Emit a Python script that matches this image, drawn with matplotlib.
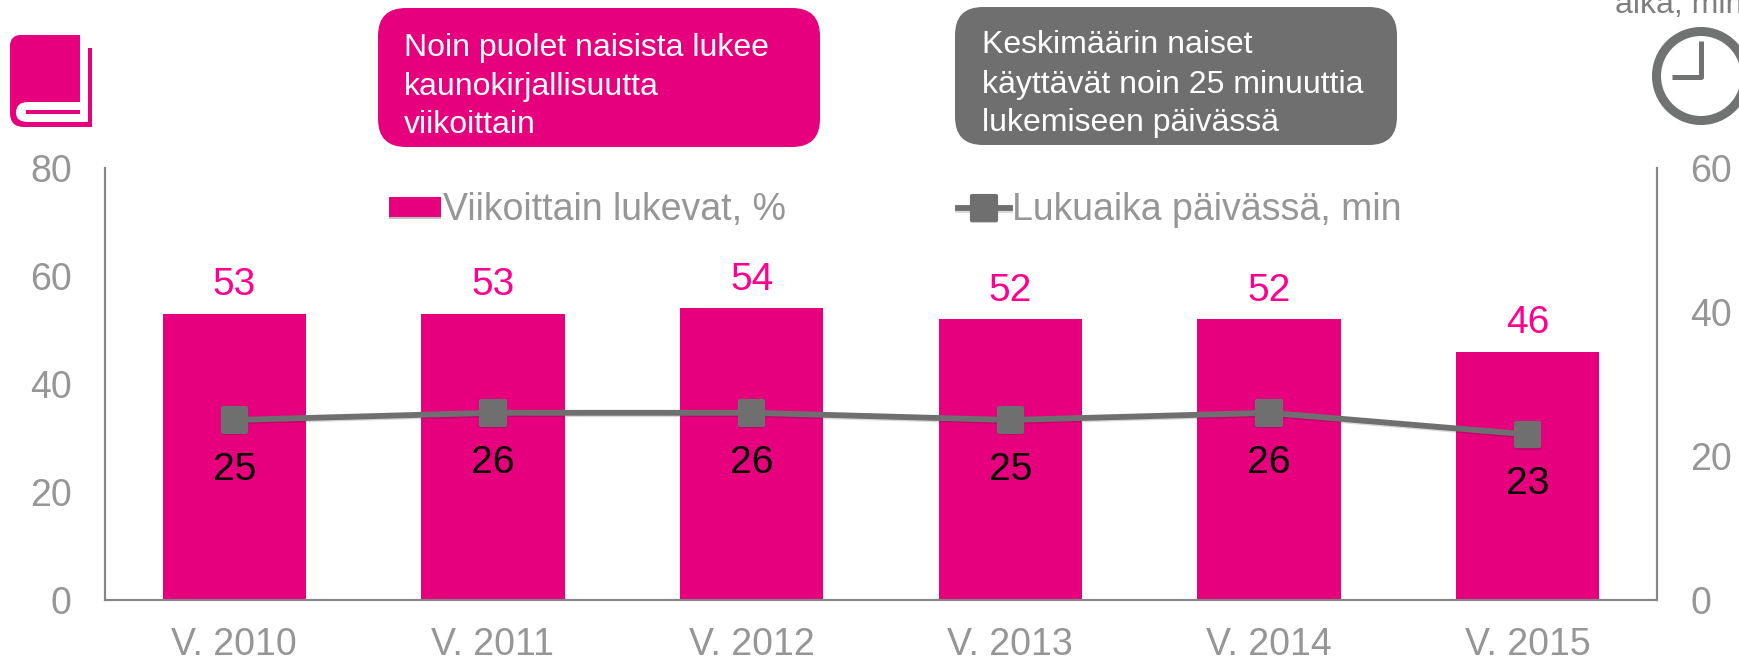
import matplotlib
matplotlib.use('Agg')
from matplotlib import pyplot as plt
from matplotlib import patheffects as pe
from matplotlib.markers import MarkerStyle
from matplotlib.patches import Circle, FancyBboxPatch, PathPatch, Rectangle
from matplotlib.path import Path

plt.rcParams['font.family'] = ['Liberation Sans', 'DejaVu Sans']

years = ['V. 2010', 'V. 2011', 'V. 2012', 'V. 2013', 'V. 2014', 'V. 2015']
weekly_readers = [53, 53, 54, 52, 52, 46]
reading_time = [25, 26, 26, 25, 26, 23]
left_ticks = [0, 20, 40, 60, 80]
right_ticks = [0, 20, 40, 60]

PINK = '#e6007e'
LABEL_PINK = '#ff0090'
DARK = '#6f6f6f'
GREY = '#969696'
AXIS = '#868686'
W, H = 1739, 661
SIZE = 27
LABEL_SIZE = 28

fig = plt.figure(figsize=(W / 100, H / 100), dpi=100)
ax = fig.add_axes([105 / W, 1 - 600 / H, (1657 - 105) / W, (600 - 168) / H])
ax2 = ax.twinx()

# pylvaat, vasen akseli
x = list(range(len(years)))
shadow = [pe.SimplePatchShadow(offset=(0, -2), alpha=0.25, shadow_rgbFace='black'), pe.Normal()]
bars = ax.bar(x, weekly_readers, width=0.553, color=PINK, path_effects=shadow,
              label='Viikoittain lukevat, %')
for i, v in enumerate(weekly_readers):
    ax.annotate(str(v), (i, v), xytext=(0, 20.5), textcoords='offset points', ha='center',
                va='center', fontsize=LABEL_SIZE, color=LABEL_PINK)

ax.set_xlim(-0.5, 5.5)
ax.set_ylim(0, 80)
ax.set_xticks(x)
ax.set_xticklabels(years)
ax.set_yticks(left_ticks)
ax.tick_params(axis='x', length=0, pad=19.5, labelsize=SIZE, labelcolor=GREY)
ax.tick_params(axis='y', length=0, pad=24, labelsize=SIZE, labelcolor=GREY)

# viiva, oikea akseli
marker = MarkerStyle('s', joinstyle='round')
line_shadow = [pe.SimpleLineShadow(offset=(0, -1), alpha=0.15, shadow_color='black'), pe.Normal()]
line, = ax2.plot(x, reading_time, color=DARK, lw=4.2, marker=marker, ms=17, mfc=DARK, mec=DARK,
                 mew=3, label='Lukuaika päivässä, min', path_effects=line_shadow)
for i, v in enumerate(reading_time):
    ax2.annotate(str(v), (i, v), xytext=(0, -36), textcoords='offset points', ha='center',
                 va='center', fontsize=LABEL_SIZE, color='black')
ax2.set_ylim(0, 60)
ax2.set_yticks(right_ticks)
ax2.tick_params(axis='y', length=0, pad=24, labelsize=SIZE, labelcolor=GREY)

for a in (ax, ax2):
    a.patch.set_visible(False)
    a.spines['top'].set_visible(False)
    for s in ('left', 'right', 'bottom'):
        a.spines[s].set_color(AXIS)
        a.spines[s].set_linewidth(1.5)

leg = ax2.legend([bars, line], [bars.get_label(), line.get_label()], ncol=2, frameon=False,
                 fontsize=SIZE, labelcolor=GREY, handlelength=1.38, handleheight=0.45,
                 handletextpad=0.06, columnspacing=4.59, borderpad=0, borderaxespad=0,
                 loc='center left', bbox_to_anchor=((389 - 105) / (1657 - 105), (600 - 210) / 432))

# kuvakkeet ja laatikot pikselikoordinaateissa
deco = fig.add_axes([0, 0, 1, 1], zorder=5)
deco.set_xlim(0, W)
deco.set_ylim(H, 0)
deco.axis('off')


def box(x0, y0, x1, y1, color):
    r = 28
    deco.add_patch(FancyBboxPatch((x0 + r, y0 + r), x1 - x0 - 2 * r, y1 - y0 - 2 * r,
                                  boxstyle=f'round,pad={r},rounding_size={r}', fc=color, ec='none'))


box(378, 8, 820, 147, PINK)
box(955, 7, 1397, 145, DARK)
for text, bx, baselines in [
    (['Noin puolet naisista lukee', 'kaunokirjallisuutta', 'viikoittain'], 404, [56, 95, 133]),
    (['Keskimäärin naiset', 'käyttävät noin 25 minuuttia', 'lukemiseen päivässä'], 982, [53, 93, 131]),
]:
    for t, b in zip(text, baselines):
        deco.text(bx, b, t, color='white', fontsize=23, va='baseline', ha='left')

deco.text(1615, 13, 'aika, min', color='#7f7f7f', fontsize=23, va='baseline', ha='left')

# kello
deco.add_patch(Circle((1701, 76), 44.5, fc='none', ec='#707372', lw=6.5))
deco.plot([1701, 1701, 1672], [41, 77, 77], color='#707372', lw=3.6, solid_joinstyle='round',
          solid_capstyle='butt')

# kirja
M, L, C = Path.MOVETO, Path.LINETO, Path.CURVE3
cover = Path([(80, 35), (21, 35), (10, 35), (10, 46), (10, 113), (10, 127), (24, 127), (92, 127),
              (92, 48), (88, 48), (88, 122), (28, 122), (16, 122), (16, 113), (16, 102), (28, 102),
              (80, 102), (80, 35)],
             [M, L, C, C, L, C, C, L, L, L, L, L, C, C, C, C, L, L])
deco.add_patch(PathPatch(cover, fc=PINK, ec='none'))
deco.add_patch(Rectangle((26, 110), 54, 4, fc=PINK, ec='none'))

fig.savefig('out.png', dpi=100)
